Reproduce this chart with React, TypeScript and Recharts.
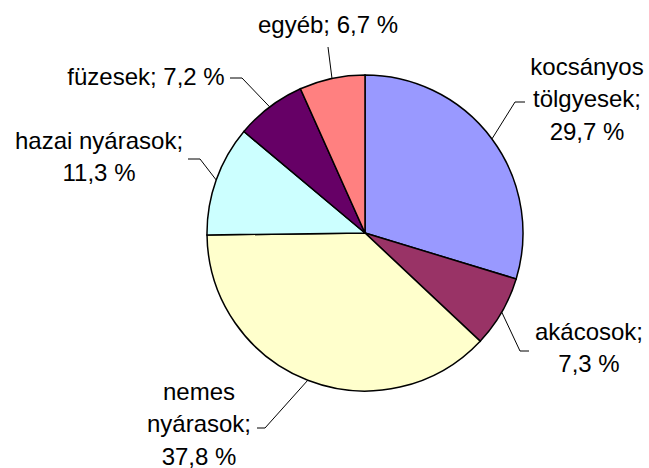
import React from "react";
import { PieChart, Pie, Cell } from "recharts";

const categories = [
  "kocsányos tölgyesek",
  "akácosok",
  "nemes nyárasok",
  "hazai nyárasok",
  "füzesek",
  "egyéb",
];
const shares = [29.7, 7.3, 37.8, 11.3, 7.2, 6.7];
const colors = ["#9999FF", "#993366", "#FFFFCC", "#CCFFFF", "#660066", "#FF8080"];

// label layout (relative to pie centre): text x, first baseline, line break mode, leader elbow and end
const labelLayout: Record<string, { tx: number; ty: number; mode: string; elbow: [number, number]; end: [number, number] }> = {
  "kocsányos tölgyesek": { tx: 222, ty: -158, mode: "words", elbow: [150, -131], end: [160, -131] },
  "akácosok": { tx: 224, ty: 107, mode: "two", elbow: [155, 118], end: [164, 118] },
  "nemes nyárasok": { tx: -166, ty: 167, mode: "words", elbow: [-100, 195], end: [-108, 195] },
  "hazai nyárasok": { tx: -266, ty: -84, mode: "two", elbow: [-165, -74], end: [-177, -74] },
  "füzesek": { tx: -219, ty: -148, mode: "one", elbow: [-123, -155], end: [-135, -155] },
  "egyéb": { tx: -37, ty: -200, mode: "one", elbow: [-37, -186], end: [-37, -186] },
};

const data = categories.map((name, i) => ({ name, value: shares[i] }));

const RAD = Math.PI / 180;
const LINE_H = 32.3;

const fmt = (v: number) => v.toFixed(1).replace(".", ",") + " %";

const renderLabel = (props: any) => {
  const { cx, cy, midAngle, outerRadius, index } = props;
  const name = categories[index];
  const value = shares[index];
  const lay = labelLayout[name];
  const sx = cx + outerRadius * Math.cos(-midAngle * RAD);
  const sy = cy + outerRadius * Math.sin(-midAngle * RAD);
  let lines: string[];
  if (lay.mode === "words") {
    const w = name.split(" ");
    lines = [...w.slice(0, -1), w[w.length - 1] + ";", fmt(value)];
  } else if (lay.mode === "two") {
    lines = [name + ";", fmt(value)];
  } else {
    lines = [name + "; " + fmt(value)];
  }
  const pts = `${sx},${sy} ${cx + lay.elbow[0]},${cy + lay.elbow[1]} ${cx + lay.end[0]},${cy + lay.end[1]}`;
  return (
    <g key={`lbl-${index}`}>
      <polyline points={pts} fill="none" stroke="#000" strokeWidth={1} />
      <text
        x={cx + lay.tx}
        y={cy + lay.ty}
        textAnchor="middle"
        fill="#000"
        fontSize={24}
        fontFamily='"Liberation Sans", Arial, sans-serif'
      >
        {lines.map((l, k) => (
          <tspan key={k} x={cx + lay.tx} y={cy + lay.ty + k * LINE_H}>
            {l}
          </tspan>
        ))}
      </text>
    </g>
  );
};

export default function App() {
  return (
    <div style={{ position: "absolute", left: 0, top: 0, width: 649, height: 468, background: "#fff" }}>
      <PieChart width={649} height={468} margin={{ top: 0, right: 0, bottom: 0, left: 0 }}>
        <Pie
          data={data}
          dataKey="value"
          nameKey="name"
          cx={365}
          cy={233}
          outerRadius={158}
          startAngle={90}
          endAngle={-270}
          stroke="#000"
          strokeWidth={1.5}
          isAnimationActive={false}
          labelLine={false}
          label={renderLabel}
        >
          {data.map((d, i) => (
            <Cell key={d.name} fill={colors[i]} />
          ))}
        </Pie>
      </PieChart>
    </div>
  );
}
